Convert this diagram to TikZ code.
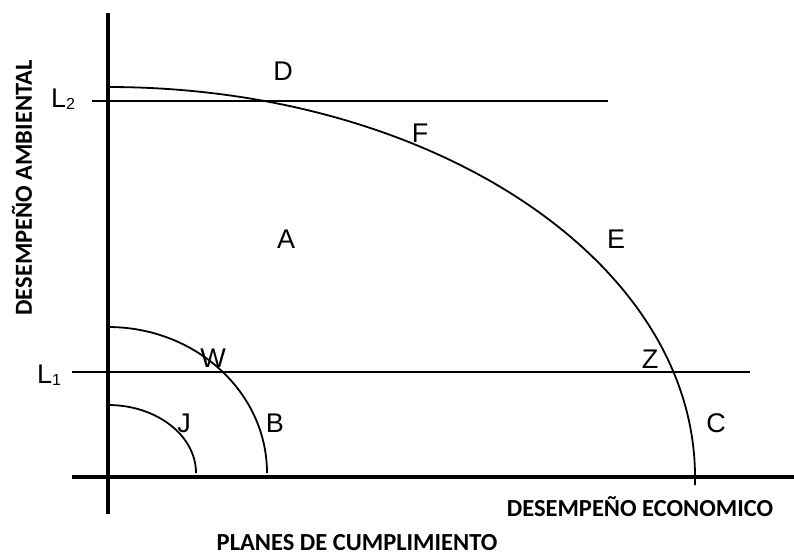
\documentclass[tikz,border=0pt]{standalone}
\usepackage{fontspec}
\setmainfont{Liberation Sans}
\newfontfamily\titlefont{Carlito}
\begin{document}
\begin{tikzpicture}[x=1pt,y=-1pt,
  axisline/.style={line width=4pt},
  thinline/.style={line width=1.8pt},
  curveline/.style={line width=1.8pt},
  letter/.style={anchor=base,inner sep=0pt,font=\fontsize{27}{27}\selectfont},
  axistitle/.style={inner sep=0pt,font=\titlefont\bfseries\fontsize{24.5}{24.5}\selectfont}
]
\useasboundingbox (0,0) rectangle (794,558);
% reference points
\coordinate (vtop) at (108,13);
\coordinate (vbot) at (108,514);
\coordinate (hleft) at (72,477);
\coordinate (hright) at (794,477);
\coordinate (l2a) at (92,101);
\coordinate (l2b) at (608,101);
\coordinate (l1a) at (72,372);
\coordinate (l1b) at (750,372);
\coordinate (bigstart) at (108,87);
\coordinate (bigend) at (695,485);
\coordinate (bstart) at (108,327);
\coordinate (jstart) at (108,405);
% axes
\draw[axisline] (vtop) -- (vbot);
\draw[axisline] (hleft) -- (hright);
% limit lines
\draw[thinline] (l2a) -- (l2b);
\draw[thinline] (l1a) -- (l1b);
% curves
\draw[curveline] (bigstart) arc[start angle=90,end angle=0,x radius=587pt,y radius=390pt] -- (bigend);
\draw[curveline] (bstart) arc[start angle=90,end angle=0,x radius=159pt,y radius=146pt];
\draw[curveline] (jstart) arc[start angle=90,end angle=0,x radius=88pt,y radius=68pt];
% labels
\node[letter] (D) at (283,80) {D};
\node[letter] (F) at (420,142) {F};
\node[letter] (A) at (286,248) {A};
\node[letter] (E) at (616,248) {E};
\node[letter] (W) at (213,367) {W};
\node[letter] (Z) at (650,368) {Z};
\node[letter] (J) at (184,432) {J};
\node[letter] (B) at (275,432) {B};
\node[letter] (C) at (716,432) {C};
\node[letter,anchor=base west] (L2) at (51,107) {L\raisebox{-2pt}{\fontsize{16}{16}\selectfont 2}};
\node[letter,anchor=base west] (L1) at (37,383) {L\raisebox{-2pt}{\fontsize{16}{16}\selectfont 1}};
% axis titles
\node[axistitle,rotate=90] (ytitle) at (22,188) {DESEMPEÑO AMBIENTAL};
\node[axistitle] (xtitle) at (640,507) {DESEMPEÑO ECONOMICO};
\node[axistitle,anchor=base,text depth=0pt] (ptitle) at (357,550) {PLANES DE CUMPLIMIENTO};
\end{tikzpicture}
\end{document}
